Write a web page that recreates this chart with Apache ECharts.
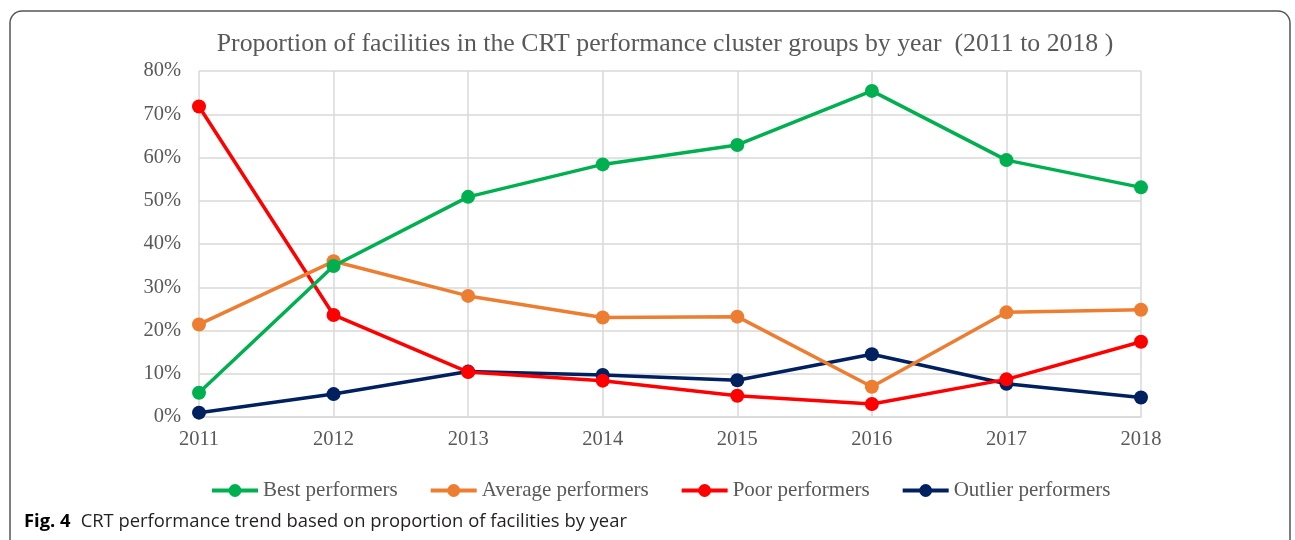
<!DOCTYPE html>
<html>
<head>
<meta charset="utf-8">
<script src="https://cdn.jsdelivr.net/npm/echarts@6/dist/echarts.min.js"></script>
<style>
  html, body { margin: 0; padding: 0; background: #fff; }
  #chart { width: 1295px; height: 540px; }
</style>
</head>
<body>
<div id="chart"></div>
<script>
// years on the x axis
const years = ['2011', '2012', '2013', '2014', '2015', '2016', '2017', '2018'];
// proportion of facilities (%)
const bestPerformers = [5.6, 34.9, 50.9, 58.4, 62.9, 75.4, 59.4, 53.1];
const averagePerformers = [21.4, 36.0, 28.0, 23.0, 23.2, 7.0, 24.2, 24.8];
const poorPerformers = [71.8, 23.6, 10.4, 8.4, 4.9, 3.0, 8.7, 17.4];
const outlierPerformers = [1.0, 5.3, 10.5, 9.7, 8.5, 14.5, 7.7, 4.5];
const seriesNames = ['Best performers', 'Average performers', 'Poor performers', 'Outlier performers'];
const seriesColors = ['#00b050', '#ed7d31', '#ff0000', '#002060'];

const serif = '"Liberation Serif", "DejaVu Serif", serif';
const chart = echarts.init(document.getElementById('chart'));

const lineSeries = [bestPerformers, averagePerformers, poorPerformers, outlierPerformers].map((vals, i) => ({
  name: seriesNames[i],
  type: 'line',
  data: vals,
  symbol: 'circle',
  symbolSize: 14,
  color: seriesColors[i],
  lineStyle: { width: 3.5, color: seriesColors[i] },
  itemStyle: { color: seriesColors[i] },
  z: 10 - i
}));

chart.setOption({
  animation: false,
  title: [
    {
      text: 'Proportion of facilities in the CRT performance cluster groups by year  (2011 to 2018 )',
      left: 660,
      textAlign: 'center',
      top: 26,
      textStyle: { fontFamily: serif, fontSize: 25.8, fontWeight: 'normal', color: '#595959' }
    },
    {
      text: '{b|Fig. 4}  {n|CRT performance trend based on proportion of facilities by year}',
      left: 19,
      top: 508,
      textStyle: {
        fontWeight: 'normal',
        rich: {
          b: { fontFamily: '"Open Sans", sans-serif', fontSize: 18.4, fontWeight: 'bold', color: '#000' },
          n: { fontFamily: '"Open Sans", sans-serif', fontSize: 18.4, fontWeight: 'normal', color: '#231f20' }
        }
      }
    }
  ],
  graphic: [{
    type: 'rect',
    shape: { x: 10, y: 11, width: 1280, height: 540, r: 12 },
    style: { fill: 'none', stroke: '#555', lineWidth: 1.5 },
    silent: true
  }],
  legend: {
    data: seriesNames,
    left: 205,
    top: 475,
    itemWidth: 46,
    itemHeight: 16,
    itemGap: 31,
    lineStyle: { width: 4 },
    textStyle: { fontFamily: serif, fontSize: 21, color: '#595959' }
  },
  grid: { left: 199, right: 154, top: 71, bottom: 123 },
  xAxis: {
    type: 'category',
    data: years,
    boundaryGap: false,
    axisLine: { show: true, lineStyle: { color: '#d9d9d9', width: 1.5 } },
    axisTick: { show: false },
    axisLabel: { fontFamily: serif, fontSize: 20.5, color: '#595959', margin: 12 },
    splitLine: { show: true, lineStyle: { color: '#d9d9d9', width: 1.5 } }
  },
  yAxis: {
    type: 'value',
    min: 0,
    max: 80,
    interval: 10,
    axisLine: { show: false },
    axisTick: { show: false },
    axisLabel: { formatter: '{value}%', fontFamily: serif, fontSize: 20.5, color: '#595959', margin: 18, padding: [3, 0, 0, 0] },
    splitLine: { show: true, lineStyle: { color: '#d9d9d9', width: 1.5 } }
  },
  series: lineSeries
});
</script>
</body>
</html>
